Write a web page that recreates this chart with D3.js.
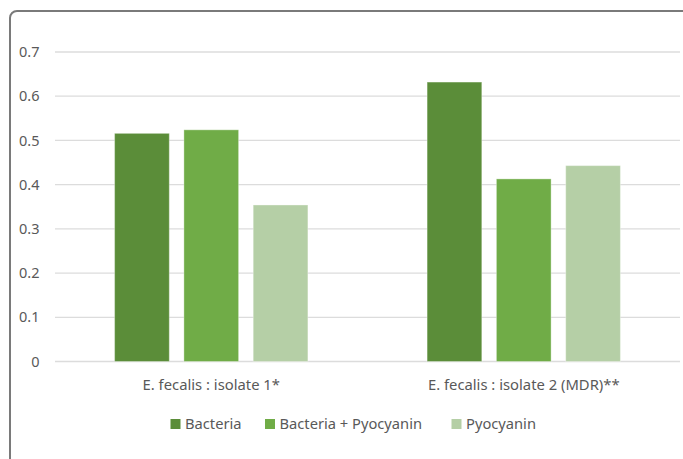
<!DOCTYPE html>
<html><head><meta charset="utf-8">
<script src="https://cdn.jsdelivr.net/npm/d3@7"></script>
<style>html,body{margin:0;padding:0;background:#fff;}svg{display:block;}</style>
</head><body>
<svg id="c" width="683" height="459"></svg>
<script>
const categories = ["E. fecalis : isolate 1*", "E. fecalis : isolate 2 (MDR)**"];
const seriesNames = ["Bacteria", "Bacteria + Pyocyanin", "Pyocyanin"];
const bacteria = [0.516, 0.632];
const bacteriaPyocyanin = [0.524, 0.413];
const pyocyanin = [0.354, 0.443];
const yTicks = [0, 0.1, 0.2, 0.3, 0.4, 0.5, 0.6, 0.7];
const colors = ["#5B8D39", "#70AC47", "#B5CFA6"];

(function () {
const series = [bacteria, bacteriaPyocyanin, pyocyanin];
const svg = d3.select("#c");
const font = "'Noto Sans', 'Liberation Sans', sans-serif";

// frame
svg.append("rect").attr("x", 10).attr("y", 11).attr("width", 700).attr("height", 480)
  .attr("rx", 7).attr("fill", "none").attr("stroke", "#7a7a7a").attr("stroke-width", 2);

const pLeft = 55, pRight = 680, pTop = 52, pBottom = 361.5;
const x = d3.scaleBand().domain(categories).range([pLeft, pRight]);
const y = d3.scaleLinear().domain([0, 0.7]).range([pBottom, pTop]);

// gridlines
svg.append("g").selectAll("line").data(yTicks).join("line")
  .attr("x1", pLeft).attr("x2", pRight)
  .attr("y1", d => y(d)).attr("y2", d => y(d))
  .attr("stroke", "#dcdcdc").attr("stroke-width", 1.3);

// y axis
const yAxis = d3.axisLeft(y).tickValues(yTicks).tickSize(0).tickPadding(0)
  .tickFormat(d => d === 0 ? "0" : d3.format(".1f")(d));
const ya = svg.append("g").attr("transform", "translate(39.5,0)").call(yAxis);
ya.select(".domain").remove();
ya.selectAll("text").attr("fill", "#595959").style("font-family", font).style("font-size", "14.5px");

// bars
const barW = 54.7, step = 69.3;
const inner = d3.scaleLinear().domain([0, 1]).range([0, step]);
series.forEach((vals, si) => {
  svg.append("g").selectAll("rect").data(vals).join("rect")
    .attr("x", (d, i) => x(categories[i]) + x.bandwidth() / 2 - (step * 2 + barW) / 2 + inner(si))
    .attr("y", d => y(d))
    .attr("width", barW)
    .attr("height", d => y(0) - y(d))
    .attr("fill", colors[si])
    .attr("stroke", "#ffffff").attr("stroke-opacity", 0.35).attr("stroke-width", 1);
});

// x axis labels
const xAxis = d3.axisBottom(x).tickSize(0).tickPadding(0);
const xa = svg.append("g").attr("transform", `translate(0,${pBottom + 18})`).call(xAxis);
xa.select(".domain").remove();
xa.selectAll("text").attr("fill", "#595959").style("font-family", font).style("font-size", "14.8px");

// legend
const legendX = [170.5, 265, 451.5];
const lg = svg.append("g");
seriesNames.forEach((n, i) => {
  lg.append("rect").attr("x", legendX[i]).attr("y", 419).attr("width", 10).attr("height", 10).attr("fill", colors[i]);
  lg.append("text").attr("x", legendX[i] + 14.5).attr("y", 428.5).text(n)
    .attr("fill", "#595959").style("font-family", font).style("font-size", "14.7px");
});
})();
</script>
</body></html>
